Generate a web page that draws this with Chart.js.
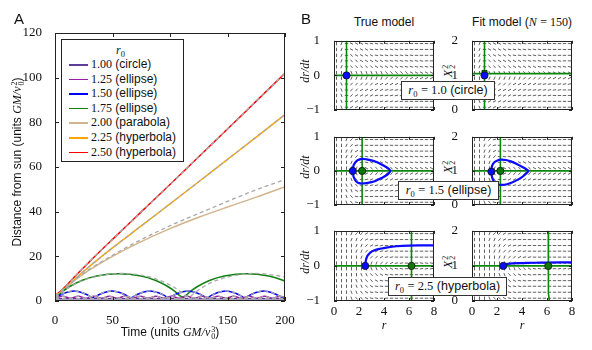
<!DOCTYPE html>
<html><head><meta charset="utf-8">
<script src="https://cdn.jsdelivr.net/npm/chart.js@4"></script>
<style>
body{margin:0;background:#fff;width:592px;height:350px;position:relative;overflow:hidden;font-family:"Liberation Sans",Arial,sans-serif;color:#111}
canvas{position:absolute}
.t{position:absolute;white-space:nowrap;font-size:12px;line-height:14px}
.m{font-family:"Liberation Serif",serif}
.mi{font-family:"Liberation Serif",serif;font-style:italic}
.ss{display:inline-block;vertical-align:-3px;font-size:8px;line-height:7px;font-family:"Liberation Serif",serif;margin-left:1px}
.ss span{display:block}
.sub{font-size:8.5px;font-family:"Liberation Serif",serif;vertical-align:-3px}
.box{position:absolute;background:#fff;border:1px solid #333;font-size:12.5px;line-height:17px;text-align:center;white-space:nowrap;box-sizing:border-box;z-index:5}
.leg{position:absolute;left:61px;top:39px;width:123px;height:123px;border:1px solid #222;background:#fff;box-sizing:border-box;z-index:5}
.leg .ln{position:absolute;left:7px;width:19px;height:1.6px}
.leg .tx{position:absolute;left:29px;font-size:12px;line-height:14px;white-space:nowrap}
.lab{position:absolute;font-size:15px;z-index:6}
</style></head><body>
<canvas id="cA" width="300" height="350" style="left:0;top:0"></canvas>

<div class="lab" style="left:14px;top:10px">A</div>
<div class="lab" style="left:301px;top:10px">B</div>

<div class="t" style="left:17px;top:162px;transform:translate(-50%,-50%) rotate(-90deg)">Distance from sun (units <span class="mi">GM/v</span><span class="ss"><span>2</span><span>0</span></span>)</div>
<div class="t" style="left:170px;top:332px;transform:translate(-50%,-50%)">Time (units <span class="mi">GM/v</span><span class="ss"><span>3</span><span>0</span></span>)</div>

<div class="leg" id="leg"></div>

<div class="t" style="left:384px;top:22px;transform:translate(-50%,-50%)">True model</div>
<div class="t" style="left:522px;top:22px;transform:translate(-50%,-50%)">Fit model (<span class="mi">N</span> <span class="m">= 150</span>)</div>

<div class="t mi" style="left:305px;top:71px;transform:translate(-50%,-50%) rotate(-90deg)">dr/dt</div>
<div class="t mi" style="left:305px;top:167px;transform:translate(-50%,-50%) rotate(-90deg)">dr/dt</div>
<div class="t mi" style="left:305px;top:262px;transform:translate(-50%,-50%) rotate(-90deg)">dr/dt</div>
<div class="t" style="left:448px;top:71px;transform:translate(-50%,-50%) rotate(-90deg)"><span class="mi">X</span><span class="ss"><span>2</span><span>2</span></span></div>
<div class="t" style="left:448px;top:167px;transform:translate(-50%,-50%) rotate(-90deg)"><span class="mi">X</span><span class="ss"><span>2</span><span>2</span></span></div>
<div class="t" style="left:448px;top:262px;transform:translate(-50%,-50%) rotate(-90deg)"><span class="mi">X</span><span class="ss"><span>2</span><span>2</span></span></div>
<div class="t mi" style="left:384px;top:325px;transform:translate(-50%,-50%)">r</div>
<div class="t mi" style="left:522px;top:325px;transform:translate(-50%,-50%)">r</div>

<div class="box" style="left:401px;top:81px;width:94px;height:19px"><span class="mi">r</span><span class="sub">0</span> <span class="m">= 1.0</span> (circle)</div>
<div class="box" style="left:398px;top:181px;width:101px;height:19px"><span class="mi">r</span><span class="sub">0</span> <span class="m">= 1.5</span> (ellipse)</div>
<div class="box" style="left:388px;top:277px;width:119px;height:19px"><span class="mi">r</span><span class="sub">0</span> <span class="m">= 2.5</span> (hyperbola)</div>

<script>
// ---- panel A data ----
const r0Labels = ['1.00', '1.25', '1.50', '1.75', '2.00', '2.25', '2.50'];
const orbitNames = ['circle', 'ellipse', 'ellipse', 'ellipse', 'parabola', 'hyperbola', 'hyperbola'];
const orbitColors = ['#5e3c99', '#9a1aa6', '#0000ff', '#108010', '#d2b48c', '#ffa500', '#ff0000'];
const timeTicks = [0, 50, 100, 150, 200];
const distTicks = [0, 20, 40, 60, 80, 100, 120];

const tCircle = [0, 200];
const rCircle = [1, 1];

const t125 = [0, 6.75, 13.5, 20.25, 27, 33.75, 40.5, 47.25, 54, 60.75, 67.5, 74.25, 81, 87.75, 94.5, 101.25,
  108, 114.75, 121.5, 128.25, 135, 141.75, 148.5, 155.25, 162, 168.75, 175.5, 182.25, 189, 195.75, 200];
const r125 = [1.25, 2.08, 1.25, 2.08, 1.25, 2.08, 1.25, 2.08, 1.25, 2.08, 1.25, 2.08, 1.25, 2.08, 1.25, 2.08,
  1.25, 2.08, 1.25, 2.08, 1.25, 2.08, 1.25, 2.08, 1.25, 2.08, 1.25, 2.08, 1.25, 2.08, 1.7];

const t150 = [0, 4, 9, 16.5, 24, 29, 33, 37, 42, 49.5, 57, 62, 66, 70, 75, 82.5, 90, 95, 99,
  103, 108, 115.5, 123, 128, 132, 136, 141, 148.5, 156, 161, 165, 169, 174, 181.5, 189, 194, 198, 200];
const r150 = [1.5, 2.5, 3.7, 4.5, 3.7, 2.5, 1.5, 2.5, 3.7, 4.5, 3.7, 2.5, 1.5, 2.5, 3.7, 4.5, 3.7, 2.5, 1.5,
  2.5, 3.7, 4.5, 3.7, 2.5, 1.5, 2.5, 3.7, 4.5, 3.7, 2.5, 1.5, 2.5, 3.7, 4.5, 3.7, 2.5, 1.5, 1.9];

const t175 = [0, 2.5, 6.5, 13.3, 23.3, 36.2, 55.5, 74.8, 87.7, 97.7, 104.5, 108.5, 111,
  113.5, 117.5, 124.3, 134.3, 147.2, 166.5, 185.8, 198.7, 200];
const r175 = [1.75, 2.4, 4.2, 6.6, 9.2, 11.2, 12.25, 11.2, 9.2, 6.6, 4.2, 2.4, 1.75,
  2.4, 4.2, 6.6, 9.2, 11.2, 12.25, 11.2, 9.2, 8.9];
const t175fit = [0, 2.6, 6.8, 13.9, 24.3, 37.8, 58, 78.2, 91.6, 102, 109.2, 113.3, 116,
  118.6, 122.8, 129.9, 140.3, 153.8, 174, 194.2, 200];
const r175fit = [1.75, 2.4, 4.2, 6.6, 9.2, 11.2, 12.35, 11.2, 9.2, 6.6, 4.2, 2.4, 1.8,
  2.4, 4.2, 6.6, 9.2, 11.2, 12.35, 11.3, 10.8];

const tOpen = [0, 5, 10, 20, 30, 50, 75, 100, 125, 150, 175, 200];
const r200 = [2, 3.8, 6.1, 10.3, 13.9, 20.0, 26.6, 32.4, 37.5, 42.1, 46.5, 51.2];
const r200fit = [2, 3.8, 6.2, 10.5, 14.2, 20.5, 27.5, 33.7, 39.2, 44.6, 49.8, 54.4];
const r225 = [2.25, 4.0, 6.3, 11.0, 15.5, 23.8, 33.6, 43.5, 53.4, 63.4, 73.4, 83.5];
const r250 = [2.5, 4.4, 7.0, 12.4, 17.6, 27.6, 39.9, 52.2, 64.6, 77.0, 89.5, 102];

// ---- panel B data ----
const rTicks = [0, 2, 4, 6, 8];
const vTicks = [-1, 0, 1];
const xTicks = [0, 1, 2];
const quiverR = [0.2, 0.6, 1.0, 1.4, 1.8, 2.2, 2.6, 3.0, 3.4, 3.8, 4.2, 4.6, 5.0, 5.4, 5.8, 6.2, 6.6, 7.0, 7.4, 7.8];
const quiverV = [0.92, 0.75, 0.58, 0.42, 0.25, 0.08, -0.08, -0.25, -0.42, -0.58, -0.75, -0.92];
const quiverX = [1.92, 1.75, 1.58, 1.42, 1.25, 1.08, 0.92, 0.75, 0.58, 0.42, 0.25, 0.08];
// arrow directions: | vertical, a-d tilted down-right, A-D tilted up-right, - flat
const fieldCircle = [
  '|D-bbbaaaaa---------',
  '|D-bbbbaaaaaaa------',
  '|D-cbbbbaaaaaaaa----',
  '|D-ccbbbbbaaaaaaaa--',
  '|D-cccccbbbbbaaaaaaa',
  '||-dddddddcccccbbbbb',
  '||-DDDDDDDCCCCCBBBBB',
  '|d-CCCCCBBBBBAAAAAAA',
  '|d-CCBBBBBAAAAAAAA--',
  '|d-CBBBBAAAAAAAA----',
  '|d-BBBBAAAAAAA------',
  '|d-BBBAAAAA---------'];
const fieldEllipse = [
  '||DCA---------------',
  '||DCA---------------',
  '||DDB-aaaaaaaaaa----',
  '||DDC-aaaaaaaaaaaa--',
  '|||DC-abbbbbaaaaaaaa',
  '||||D-bcccccbbbbbbbb',
  '||||d-BCCCCCBBBBBBBB',
  '|||dc-ABBBBBAAAAAAAA',
  '||ddc-AAAAAAAAAAAA--',
  '||ddb-AAAAAAAAAA----',
  '||dca---------------',
  '||dca---------------'];
const fieldHyperbola = [
  '|||DCCBAA-----------',
  '|||DDCBAA-----------',
  '||||DDCBAA----------',
  '||||DDCCBAA---------',
  '|||||DDCCBAA--------',
  '|||||||DDCCBAA---aaa',
  '|||||||ddccbaa---AAA',
  '|||||ddccbaa--------',
  '||||ddccbaa---------',
  '||||ddcbaa----------',
  '|||ddcbaa-----------',
  '|||dccbaa-----------'];

const startR = [1.0, 1.5, 2.5];
const nullTrueR = [1.0, 2.25, 6.2];
const nullFitR = [1.0, 2.27, 6.1];
const nullFitX = [1.05, 1.0, 1.0];

const ellipseTrueR = [1.5, 1.55, 1.65, 1.8, 2.0, 2.25, 2.6, 3.0, 3.4, 3.8, 4.1, 4.35, 4.5,
  4.35, 4.1, 3.8, 3.4, 3.0, 2.6, 2.25, 2.0, 1.8, 1.65, 1.55, 1.5];
const ellipseTrueV = [0, 0.14, 0.22, 0.29, 0.33, 0.35, 0.34, 0.31, 0.26, 0.19, 0.13, 0.07, 0,
  -0.08, -0.15, -0.21, -0.28, -0.33, -0.36, -0.37, -0.36, -0.32, -0.24, -0.15, 0];
const ellipseFitR = [1.55, 1.6, 1.75, 2.0, 2.3, 2.7, 3.1, 3.5, 3.9, 4.25, 4.5,
  4.3, 4.0, 3.6, 3.2, 2.8, 2.4, 2.0, 1.75, 1.6, 1.55];
const ellipseFitX = [1.0, 1.14, 1.24, 1.3, 1.33, 1.32, 1.28, 1.22, 1.14, 1.07, 1.0,
  0.91, 0.82, 0.73, 0.66, 0.61, 0.59, 0.61, 0.69, 0.82, 1.0];
const hyperTrueR = [2.5, 2.52, 2.58, 2.7, 2.9, 3.2, 3.7, 4.3, 5.0, 6.0, 7.0, 8.0];
const hyperTrueV = [0, 0.1, 0.2, 0.3, 0.38, 0.44, 0.49, 0.53, 0.56, 0.58, 0.585, 0.585];
const hyperFitR = [2.5, 2.7, 3.2, 4.0, 5.0, 6.0, 8.0];
const hyperFitX = [1.0, 1.05, 1.07, 1.08, 1.09, 1.095, 1.1];
const hyperFitNullR = [6.1, 6.1, 6.13, 6.2];
const hyperFitNullX = [2, 0.5, 0.2, 0];

// ---- helpers ----
const xy = (xs, ys) => xs.map((v, i) => ({x: v, y: ys[i]}));
const fixTicks = vals => s => { s.ticks = vals.map(v => ({value: v})); };
const tickFont = {family: '"Liberation Serif", serif', size: 13};
const minus = v => (v < 0 ? '\u2212' + Math.abs(v) : '' + v);

// frame + inward ticks on all four sides; optional x tick labels placed through the x scale
const frameTicks = {
  id: 'frameTicks',
  afterDatasetsDraw(chart, args, opts) {
    const {ctx, chartArea: a, scales: {x, y}} = chart;
    const L = opts.len || 4;
    const xv = opts.xVals || x.ticks.map(t => t.value);
    const yv = opts.yVals || y.ticks.map(t => t.value);
    ctx.save();
    ctx.strokeStyle = '#222';
    ctx.lineWidth = 1;
    ctx.beginPath();
    xv.forEach(v => {
      const p = Math.round(x.getPixelForValue(v)) + 0.5;
      ctx.moveTo(p, a.bottom); ctx.lineTo(p, a.bottom - L);
      ctx.moveTo(p, a.top); ctx.lineTo(p, a.top + L);
    });
    yv.forEach(v => {
      const p = Math.round(y.getPixelForValue(v)) + 0.5;
      ctx.moveTo(a.left, p); ctx.lineTo(a.left + L, p);
      ctx.moveTo(a.right, p); ctx.lineTo(a.right - L, p);
    });
    ctx.stroke();
    ctx.strokeRect(Math.round(a.left) + 0.5, Math.round(a.top) + 0.5, Math.round(a.width) - 1, Math.round(a.height) - 1);
    if (opts.xLabels) {
      ctx.fillStyle = '#111';
      ctx.font = '13px "Liberation Serif", serif';
      ctx.textAlign = 'center';
      ctx.textBaseline = 'top';
      xv.forEach(v => ctx.fillText(String(v), x.getPixelForValue(v), a.bottom + 4));
    }
    ctx.restore();
  }
};

// ---- panel A ----
function solid(ts, rs, c) {
  return {data: xy(ts, rs), showLine: true, borderColor: c, borderWidth: 1.5, pointRadius: 0,
    cubicInterpolationMode: 'monotone', order: 2};
}
function dashed(ts, rs) {
  return {data: xy(ts, rs), showLine: true, borderColor: '#a8a8a8', borderWidth: 1.3, borderDash: [4, 3],
    pointRadius: 0, cubicInterpolationMode: 'monotone', order: 1};
}
new Chart(document.getElementById('cA'), {
  type: 'scatter',
  data: {datasets: [
    solid(tCircle, rCircle, orbitColors[0]), dashed(tCircle, rCircle),
    solid(t125, r125, orbitColors[1]), dashed(t125, r125),
    solid(t150, r150, orbitColors[2]), dashed(t150, r150),
    solid(t175, r175, orbitColors[3]), dashed(t175fit, r175fit),
    solid(tOpen, r200, orbitColors[4]), dashed(tOpen, r200fit),
    solid(tOpen, r225, orbitColors[5]), dashed(tOpen, r225),
    solid(tOpen, r250, orbitColors[6]), dashed(tOpen, r250)
  ]},
  options: {
    responsive: false, animation: false, events: [],
    layout: {padding: {top: 33, right: 15}},
    plugins: {legend: {display: false}, tooltip: {enabled: false}, frameTicks: {len: 4}},
    scales: {
      x: {type: 'linear', min: 0, max: 200, afterBuildTicks: fixTicks(timeTicks),
        ticks: {autoSkip: false, maxRotation: 0, font: tickFont, color: '#111', padding: 4},
        grid: {display: false}, border: {display: false}, afterFit: s => { s.height = 49; }},
      y: {min: 0, max: 120, afterBuildTicks: fixTicks(distTicks),
        ticks: {autoSkip: false, font: tickFont, color: '#111', padding: 5},
        grid: {display: false}, border: {display: false}, afterFit: s => { s.width = 55; }}
    }
  },
  plugins: [frameTicks]
});

// legend of panel A
const leg = document.getElementById('leg');
leg.innerHTML = '<div class="tx mi" style="left:54px;top:3px">r<span class="sub" style="font-style:normal">0</span></div>' +
  r0Labels.map((lab, i) => {
    const y = 24 + i * 14.6;
    return '<div class="ln" style="top:' + y + 'px;background:' + orbitColors[i] + '"></div>' +
      '<div class="tx" style="top:' + (y - 7) + 'px"><span class="m">' + lab + '</span> (' + orbitNames[i] + ')</div>';
  }).join('');

// ---- panel B ----
const angleOf = {'|': 90, 'a': 12, 'b': 28, 'c': 48, 'd': 68, 'A': -12, 'B': -28, 'C': -48, 'D': -68, '-': 0};
function quiver(rows, ys) {
  const pts = [], rot = [];
  rows.forEach((row, j) => {
    for (let i = 0; i < row.length; i++) {
      pts.push({x: quiverR[i], y: ys[j]});
      rot.push(angleOf[row[i]]);
    }
  });
  return {data: pts, showLine: false, pointStyle: 'line', pointRotation: rot, pointRadius: 1.7,
    pointBorderColor: '#3a3a3a', pointBorderWidth: 0.8, order: 9};
}
function gline(xs, ys) {
  return {data: xy(xs, ys), showLine: true, borderColor: '#0b870b', borderWidth: 1.6, pointRadius: 0, order: 5};
}
function traj(xs, ys) {
  return {data: xy(xs, ys), showLine: true, borderColor: '#0a0aff', borderWidth: 2.2, pointRadius: 0, tension: 0.4, order: 3};
}
function dot(x, y, c, style) {
  return {data: [{x: x, y: y}], pointRadius: 3.6, pointStyle: style || 'circle', pointBackgroundColor: c,
    pointBorderColor: '#111', pointBorderWidth: 0.8, order: c === '#0a0aff' ? 0 : 1};
}

function panelB(left, top, h, ymin, ymax, yTicks, datasets, showX) {
  const cv = document.createElement('canvas');
  cv.width = 34 + 100 + 8;
  cv.height = 6 + h + 24;
  cv.style.left = (left - 34) + 'px';
  cv.style.top = (top - 6) + 'px';
  document.body.appendChild(cv);
  new Chart(cv, {
    type: 'scatter',
    data: {datasets},
    options: {
      responsive: false, animation: false, events: [],
      layout: {padding: {top: 6, right: 8}},
      plugins: {legend: {display: false}, tooltip: {enabled: false},
        frameTicks: {len: 3, xVals: rTicks, yVals: yTicks, xLabels: showX}},
      scales: {
        x: {type: 'linear', min: 0, max: 8, afterBuildTicks: fixTicks(rTicks),
          ticks: {display: false},
          grid: {display: false}, border: {display: false}, afterFit: s => { s.height = 24; }},
        y: {min: ymin, max: ymax, afterBuildTicks: fixTicks(yTicks),
          ticks: {autoSkip: false, font: tickFont, color: '#111', padding: 6, callback: minus},
          grid: {display: false}, border: {display: false}, afterFit: s => { s.width = 34; }}
      }
    },
    plugins: [frameTicks]
  });
}

const G = '#0b7a0b', Bl = '#0a0aff';
// row 1: circle
panelB(334, 33, 77, -1, 1, vTicks, [
  quiver(fieldCircle, quiverV),
  gline([nullTrueR[0], nullTrueR[0]], [-1, 1]), gline([0, 8], [0, 0]),
  dot(startR[0], 0, Bl)
], false);
panelB(472, 33, 77, 0, 2, xTicks, [
  quiver(fieldCircle, quiverX),
  gline([nullFitR[0], nullFitR[0]], [0, 2]), gline([0, 8], [nullFitX[0], nullFitX[0]]),
  dot(nullFitR[0], nullFitX[0] + 0.02, G, 'rect'), dot(startR[0], 1.0, Bl)
], false);
// row 2: ellipse
panelB(334, 129, 76, -1, 1, vTicks, [
  quiver(fieldEllipse, quiverV),
  gline([nullTrueR[1], nullTrueR[1]], [-1, 1]), gline([0, 8], [0, 0]),
  traj(ellipseTrueR, ellipseTrueV),
  dot(nullTrueR[1], 0, G), dot(startR[1], 0, Bl)
], false);
panelB(472, 129, 76, 0, 2, xTicks, [
  quiver(fieldEllipse, quiverX),
  gline([nullFitR[1], nullFitR[1]], [0, 2]), gline([0, 8], [nullFitX[1], nullFitX[1]]),
  traj(ellipseFitR, ellipseFitX),
  dot(nullFitR[1], nullFitX[1], G), dot(1.55, 0.98, Bl)
], false);
// row 3: hyperbola
panelB(334, 223, 78, -1, 1, vTicks, [
  quiver(fieldHyperbola, quiverV),
  gline([nullTrueR[2], nullTrueR[2]], [-1, 1]), gline([0, 8], [0, 0]),
  traj(hyperTrueR, hyperTrueV),
  dot(nullTrueR[2], 0, G), dot(startR[2], 0, Bl)
], true);
panelB(472, 223, 78, 0, 2, xTicks, [
  quiver(fieldHyperbola, quiverX),
  gline(hyperFitNullR, hyperFitNullX), gline([0, 8], [nullFitX[2], nullFitX[2]]),
  traj(hyperFitR, hyperFitX),
  dot(nullFitR[2], nullFitX[2], G), dot(startR[2], 1.0, Bl)
], true);
</script>
</body></html>
